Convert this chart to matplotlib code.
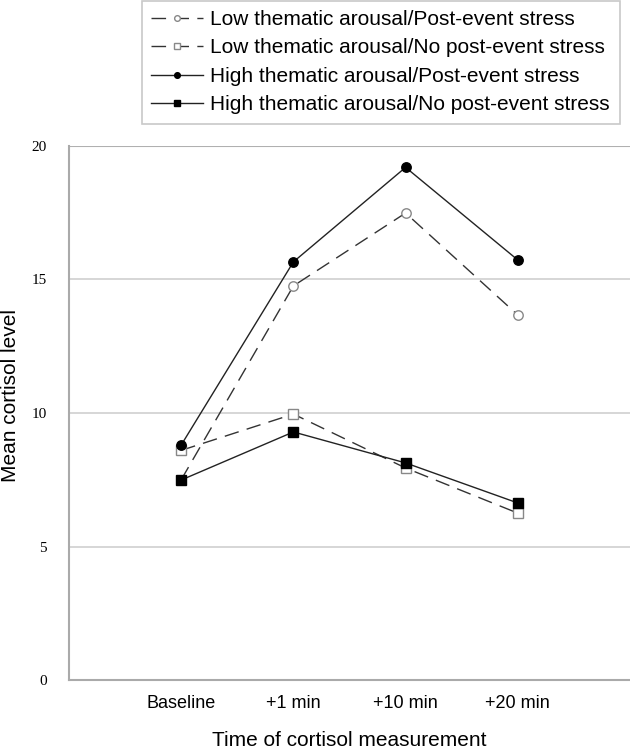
import matplotlib
matplotlib.use("Agg")
import matplotlib.pyplot as plt

categories = ["Baseline", "+1 min", "+10 min", "+20 min"]
low_post = [7.5, 14.76, 17.49, 13.67]
low_nopost = [8.6, 9.96, 7.94, 6.25]
high_post = [8.8, 15.66, 19.2, 15.73]
high_nopost = [7.49, 9.29, 8.13, 6.63]
labels = ["Low thematic arousal/Post-event stress",
          "Low thematic arousal/No post-event stress",
          "High thematic arousal/Post-event stress",
          "High thematic arousal/No post-event stress"]
yticks = [0, 5, 10, 15, 20]

fig = plt.figure(figsize=(6.3, 7.48), dpi=100)
ax = fig.add_axes([69/630, 1-680/748, 1-69/630, (680-146)/748])

x = list(range(1, len(categories)+1))
dash = (0, (10.5, 6))
ms = 6.8
ax.plot(x, low_post, color="#333333", lw=1.0, linestyle=dash, marker="o", ms=ms,
        mfc="white", mec="#888888", mew=1.0, label=labels[0], zorder=3)
ax.plot(x, low_nopost, color="#333333", lw=1.0, linestyle=dash, marker="s", ms=ms,
        mfc="white", mec="#888888", mew=1.0, label=labels[1], zorder=3)
ax.plot(x, high_post, color="#222222", lw=1.0, linestyle="-", marker="o", ms=ms,
        mfc="black", mec="black", label=labels[2], zorder=4)
ax.plot(x, high_nopost, color="#222222", lw=1.0, linestyle="-", marker="s", ms=ms,
        mfc="black", mec="black", label=labels[3], zorder=4)

ax.set_xlim(0, 5)
ax.set_ylim(0, 20)
ax.set_xticks(x)
ax.set_xticklabels(categories, family="Liberation Sans", fontsize=13)
ax.set_yticks(yticks)
ax.set_yticklabels([str(v) for v in yticks], family="Liberation Serif", fontsize=11)
ax.tick_params(length=0)
ax.tick_params(axis="x", pad=11)
ax.tick_params(axis="y", pad=16)
for v in yticks[1:-1]:
    ax.axhline(v, color="#d0d0d0", lw=1.2, zorder=1)
ax.axhline(20, color="#b0b0b0", lw=1.5, zorder=1)
for s in ["top", "right"]:
    ax.spines[s].set_visible(False)
for s in ["left", "bottom"]:
    ax.spines[s].set_color("#aaaaaa")
    ax.spines[s].set_linewidth(1.5)

ax.set_xlabel("Time of cortisol measurement", family="Liberation Sans", fontsize=15)
ax.set_ylabel("Mean cortisol level", family="Liberation Sans", fontsize=15)
ax.xaxis.set_label_coords(0.499, (680-740)/534)
ax.xaxis.label.set_va("center")
ax.yaxis.set_label_coords((11-69)/561, (680-396)/534)
ax.yaxis.label.set_va("center")

leg = fig.legend(loc="upper left", bbox_to_anchor=(142/630, 1-123/748, (620-142)/630, 123/748 - 0.001),
                 mode="expand", prop={"family": "Liberation Sans", "size": 15},
                 frameon=True, fancybox=False, edgecolor="#bbbbbb", handlelength=2.5,
                 markerscale=0.6,
                 handletextpad=0.3, borderpad=0.45, labelspacing=0.45, borderaxespad=0)
leg.get_frame().set_linewidth(1.2)

fig.savefig("out.png", dpi=100)
